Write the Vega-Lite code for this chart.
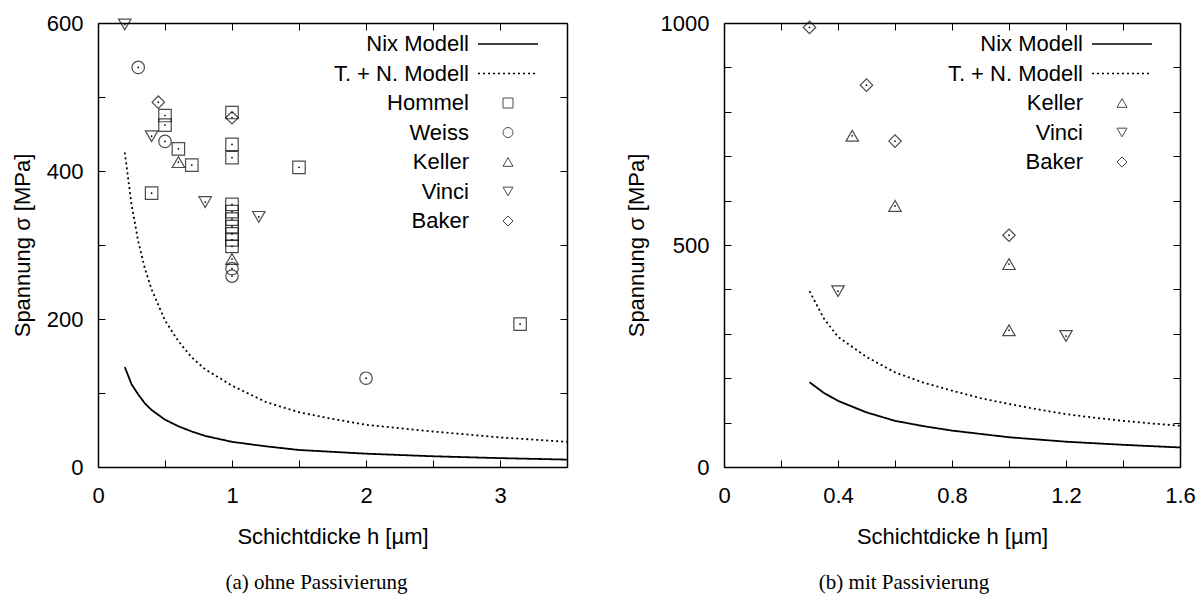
{
  "$schema": "https://vega.github.io/schema/vega-lite/v6.json",
  "padding": {"left": 11, "top": 12, "right": 5, "bottom": 5},
  "spacing": 57,
  "resolve": {"scale": {"shape": "independent", "stroke": "independent", "strokeDash": "independent"}, "legend": {"shape": "independent", "stroke": "independent", "strokeDash": "independent"}},
  "datasets": {
    "modelsA": [
      {"h": 0.2, "sigma": 135, "model": "Nix Modell"},
      {"h": 0.25, "sigma": 112, "model": "Nix Modell"},
      {"h": 0.3, "sigma": 98, "model": "Nix Modell"},
      {"h": 0.35, "sigma": 86, "model": "Nix Modell"},
      {"h": 0.4, "sigma": 77, "model": "Nix Modell"},
      {"h": 0.5, "sigma": 64, "model": "Nix Modell"},
      {"h": 0.6, "sigma": 55, "model": "Nix Modell"},
      {"h": 0.7, "sigma": 48, "model": "Nix Modell"},
      {"h": 0.8, "sigma": 42, "model": "Nix Modell"},
      {"h": 1.0, "sigma": 34, "model": "Nix Modell"},
      {"h": 1.25, "sigma": 28, "model": "Nix Modell"},
      {"h": 1.5, "sigma": 23, "model": "Nix Modell"},
      {"h": 2.0, "sigma": 18, "model": "Nix Modell"},
      {"h": 2.5, "sigma": 14.5, "model": "Nix Modell"},
      {"h": 3.0, "sigma": 12, "model": "Nix Modell"},
      {"h": 3.5, "sigma": 10, "model": "Nix Modell"},
      {"h": 0.2, "sigma": 425, "model": "T. + N. Modell"},
      {"h": 0.25, "sigma": 355, "model": "T. + N. Modell"},
      {"h": 0.3, "sigma": 305, "model": "T. + N. Modell"},
      {"h": 0.35, "sigma": 268, "model": "T. + N. Modell"},
      {"h": 0.4, "sigma": 240, "model": "T. + N. Modell"},
      {"h": 0.5, "sigma": 198, "model": "T. + N. Modell"},
      {"h": 0.6, "sigma": 170, "model": "T. + N. Modell"},
      {"h": 0.7, "sigma": 148, "model": "T. + N. Modell"},
      {"h": 0.8, "sigma": 132, "model": "T. + N. Modell"},
      {"h": 1.0, "sigma": 110, "model": "T. + N. Modell"},
      {"h": 1.25, "sigma": 88, "model": "T. + N. Modell"},
      {"h": 1.5, "sigma": 74, "model": "T. + N. Modell"},
      {"h": 1.75, "sigma": 65, "model": "T. + N. Modell"},
      {"h": 2.0, "sigma": 57, "model": "T. + N. Modell"},
      {"h": 2.5, "sigma": 48, "model": "T. + N. Modell"},
      {"h": 3.0, "sigma": 40, "model": "T. + N. Modell"},
      {"h": 3.5, "sigma": 34, "model": "T. + N. Modell"}
    ],
    "pointsA": [
      {"h": 0.4, "sigma": 370, "study": "Hommel"},
      {"h": 0.5, "sigma": 475, "study": "Hommel"},
      {"h": 0.5, "sigma": 462, "study": "Hommel"},
      {"h": 0.6, "sigma": 430, "study": "Hommel"},
      {"h": 0.7, "sigma": 408, "study": "Hommel"},
      {"h": 1.0, "sigma": 479, "study": "Hommel"},
      {"h": 1.0, "sigma": 436, "study": "Hommel"},
      {"h": 1.0, "sigma": 418, "study": "Hommel"},
      {"h": 1.0, "sigma": 355, "study": "Hommel"},
      {"h": 1.0, "sigma": 345, "study": "Hommel"},
      {"h": 1.0, "sigma": 335, "study": "Hommel"},
      {"h": 1.0, "sigma": 325, "study": "Hommel"},
      {"h": 1.0, "sigma": 315, "study": "Hommel"},
      {"h": 1.0, "sigma": 307, "study": "Hommel"},
      {"h": 1.0, "sigma": 298, "study": "Hommel"},
      {"h": 1.5, "sigma": 405, "study": "Hommel"},
      {"h": 3.15, "sigma": 193, "study": "Hommel"},
      {"h": 0.3, "sigma": 540, "study": "Weiss"},
      {"h": 0.5, "sigma": 440, "study": "Weiss"},
      {"h": 1.0, "sigma": 268, "study": "Weiss"},
      {"h": 1.0, "sigma": 258, "study": "Weiss"},
      {"h": 2.0, "sigma": 120, "study": "Weiss"},
      {"h": 0.6, "sigma": 412, "study": "Keller"},
      {"h": 1.0, "sigma": 281, "study": "Keller"},
      {"h": 0.2, "sigma": 598, "study": "Vinci"},
      {"h": 0.4, "sigma": 447, "study": "Vinci"},
      {"h": 0.8, "sigma": 358, "study": "Vinci"},
      {"h": 1.2, "sigma": 338, "study": "Vinci"},
      {"h": 0.45, "sigma": 493, "study": "Baker"},
      {"h": 1.0, "sigma": 472, "study": "Baker"}
    ],
    "modelsB": [
      {"h": 0.3, "sigma": 191, "model": "Nix Modell"},
      {"h": 0.35, "sigma": 167, "model": "Nix Modell"},
      {"h": 0.4, "sigma": 149, "model": "Nix Modell"},
      {"h": 0.5, "sigma": 123, "model": "Nix Modell"},
      {"h": 0.6, "sigma": 104, "model": "Nix Modell"},
      {"h": 0.7, "sigma": 92, "model": "Nix Modell"},
      {"h": 0.8, "sigma": 82, "model": "Nix Modell"},
      {"h": 1.0, "sigma": 67, "model": "Nix Modell"},
      {"h": 1.2, "sigma": 57, "model": "Nix Modell"},
      {"h": 1.4, "sigma": 50, "model": "Nix Modell"},
      {"h": 1.6, "sigma": 44, "model": "Nix Modell"},
      {"h": 0.3, "sigma": 396, "model": "T. + N. Modell"},
      {"h": 0.35, "sigma": 335, "model": "T. + N. Modell"},
      {"h": 0.4, "sigma": 293, "model": "T. + N. Modell"},
      {"h": 0.5, "sigma": 248, "model": "T. + N. Modell"},
      {"h": 0.6, "sigma": 213, "model": "T. + N. Modell"},
      {"h": 0.7, "sigma": 190, "model": "T. + N. Modell"},
      {"h": 0.8, "sigma": 172, "model": "T. + N. Modell"},
      {"h": 0.9, "sigma": 155, "model": "T. + N. Modell"},
      {"h": 1.0, "sigma": 142, "model": "T. + N. Modell"},
      {"h": 1.1, "sigma": 130, "model": "T. + N. Modell"},
      {"h": 1.2, "sigma": 119, "model": "T. + N. Modell"},
      {"h": 1.3, "sigma": 111, "model": "T. + N. Modell"},
      {"h": 1.4, "sigma": 104, "model": "T. + N. Modell"},
      {"h": 1.5, "sigma": 98, "model": "T. + N. Modell"},
      {"h": 1.6, "sigma": 93, "model": "T. + N. Modell"}
    ],
    "pointsB": [
      {"h": 0.45, "sigma": 746, "study": "Keller"},
      {"h": 0.6, "sigma": 588, "study": "Keller"},
      {"h": 1.0, "sigma": 457, "study": "Keller"},
      {"h": 1.0, "sigma": 308, "study": "Keller"},
      {"h": 0.4, "sigma": 396, "study": "Vinci"},
      {"h": 1.2, "sigma": 295, "study": "Vinci"},
      {"h": 0.3, "sigma": 990, "study": "Baker"},
      {"h": 0.5, "sigma": 860, "study": "Baker"},
      {"h": 0.6, "sigma": 734, "study": "Baker"},
      {"h": 1.0, "sigma": 522, "study": "Baker"}
    ]
  },
  "hconcat": [
    {
      "width": 469,
      "height": 444,
      "title": {"text": "(a) ohne Passivierung", "orient": "bottom", "frame": "group", "font": "Liberation Serif", "fontSize": 21, "fontWeight": "normal", "color": "black", "offset": 25, "dx": -16},
      "layer": [
        {
          "data": {"name": "modelsA"},
          "mark": {"type": "line", "strokeWidth": 1.8, "clip": true},
          "encoding": {
            "x": {"field": "h", "type": "quantitative", "scale": {"domain": [0, 3.5], "nice": false, "zero": false},
              "axis": {"orient": "bottom", "title": "Schichtdicke h [µm]", "values": [0, 0.5, 1, 1.5, 2, 2.5, 3, 3.5], "labelExpr": "datum.value % 1 === 0 ? datum.label : ''", "format": "~g"}},
            "y": {"field": "sigma", "type": "quantitative", "scale": {"domain": [0, 600], "nice": false},
              "axis": {"orient": "left", "title": "Spannung σ [MPa]", "values": [0, 100, 200, 300, 400, 500, 600], "labelExpr": "datum.value % 200 === 0 ? datum.label : ''", "format": "d"}},
            "stroke": {"field": "model", "type": "nominal", "scale": {"domain": ["Nix Modell", "T. + N. Modell"], "range": ["black", "black"]},
              "legend": {"orient": "none", "legendX": 399, "legendY": 10, "symbolType": "M-6,0H6", "symbolSize": 100, "labelOffset": -50}},
            "strokeDash": {"field": "model", "type": "nominal", "scale": {"domain": ["Nix Modell", "T. + N. Modell"], "range": [[1, 0], [2, 3]]},
              "legend": {"orient": "none", "legendX": 399, "legendY": 10, "symbolType": "M-6,0H6", "symbolSize": 100, "labelOffset": -50}}
          }
        },
        {
          "data": {"name": "pointsA"},
          "mark": {"type": "point", "filled": false, "stroke": "black", "strokeWidth": 1.2, "size": 155},
          "encoding": {
            "x": {"field": "h", "type": "quantitative",
              "axis": {"orient": "top", "labels": false, "title": null, "values": [0, 0.5, 1, 1.5, 2, 2.5, 3, 3.5]}},
            "y": {"field": "sigma", "type": "quantitative",
              "axis": {"orient": "right", "labels": false, "title": null, "values": [0, 100, 200, 300, 400, 500, 600]}},
            "shape": {"field": "study", "type": "nominal", "scale": {"domain": ["Hommel", "Weiss", "Keller", "Vinci", "Baker"], "range": ["square", "circle", "triangle-up", "triangle-down", "diamond"]},
              "legend": {"orient": "none", "legendX": 399, "legendY": 69, "symbolSize": 100, "symbolStrokeWidth": 1, "labelOffset": -50}}
          }
        },
        {
          "data": {"name": "pointsA"},
          "mark": {"type": "circle", "size": 3, "color": "black", "opacity": 1},
          "encoding": {
            "x": {"field": "h", "type": "quantitative", "axis": null},
            "y": {"field": "sigma", "type": "quantitative", "axis": null}
          }
        }
      ]
    },
    {
      "width": 456,
      "height": 444,
      "title": {"text": "(b) mit Passivierung", "orient": "bottom", "frame": "group", "font": "Liberation Serif", "fontSize": 21, "fontWeight": "normal", "color": "black", "offset": 25, "dx": -48},
      "layer": [
        {
          "data": {"name": "modelsB"},
          "mark": {"type": "line", "strokeWidth": 1.8, "clip": true},
          "encoding": {
            "x": {"field": "h", "type": "quantitative", "scale": {"domain": [0, 1.6], "nice": false, "zero": false},
              "axis": {"orient": "bottom", "title": "Schichtdicke h [µm]", "values": [0, 0.2, 0.4, 0.6, 0.8, 1.0, 1.2, 1.4, 1.6], "labelExpr": "round(datum.value * 10) % 4 === 0 ? datum.label : ''", "format": "~g"}},
            "y": {"field": "sigma", "type": "quantitative", "scale": {"domain": [0, 1000], "nice": false},
              "axis": {"orient": "left", "title": "Spannung σ [MPa]", "values": [0, 100, 200, 300, 400, 500, 600, 700, 800, 900, 1000], "labelExpr": "datum.value % 500 === 0 ? datum.label : ''", "format": "d"}},
            "stroke": {"field": "model", "type": "nominal", "scale": {"domain": ["Nix Modell", "T. + N. Modell"], "range": ["black", "black"]},
              "legend": {"orient": "none", "legendX": 387, "legendY": 10, "symbolType": "M-6,0H6", "symbolSize": 100, "labelOffset": -50}},
            "strokeDash": {"field": "model", "type": "nominal", "scale": {"domain": ["Nix Modell", "T. + N. Modell"], "range": [[1, 0], [2, 3]]},
              "legend": {"orient": "none", "legendX": 387, "legendY": 10, "symbolType": "M-6,0H6", "symbolSize": 100, "labelOffset": -50}}
          }
        },
        {
          "data": {"name": "pointsB"},
          "mark": {"type": "point", "filled": false, "stroke": "black", "strokeWidth": 1.2, "size": 155},
          "encoding": {
            "x": {"field": "h", "type": "quantitative",
              "axis": {"orient": "top", "labels": false, "title": null, "values": [0, 0.2, 0.4, 0.6, 0.8, 1.0, 1.2, 1.4, 1.6]}},
            "y": {"field": "sigma", "type": "quantitative",
              "axis": {"orient": "right", "labels": false, "title": null, "values": [0, 100, 200, 300, 400, 500, 600, 700, 800, 900, 1000]}},
            "shape": {"field": "study", "type": "nominal", "scale": {"domain": ["Keller", "Vinci", "Baker"], "range": ["triangle-up", "triangle-down", "diamond"]},
              "legend": {"orient": "none", "legendX": 387, "legendY": 69, "symbolSize": 100, "symbolStrokeWidth": 1, "labelOffset": -50}}
          }
        },
        {
          "data": {"name": "pointsB"},
          "mark": {"type": "circle", "size": 3, "color": "black", "opacity": 1},
          "encoding": {
            "x": {"field": "h", "type": "quantitative", "axis": null},
            "y": {"field": "sigma", "type": "quantitative", "axis": null}
          }
        }
      ]
    }
  ],
  "config": {
    "font": "Liberation Sans",
    "view": {"stroke": null},
    "axis": {
      "grid": false, "domainColor": "black", "domainWidth": 1.5, "tickColor": "black", "tickWidth": 1,
      "tickSize": -7, "labelColor": "black", "labelFontSize": 22, "labelFont": "Liberation Sans",
      "titleColor": "black", "titleFontSize": 22, "titleFont": "Liberation Sans", "titleFontWeight": "normal",
      "labelFlush": false, "labelOverlap": false, "labelBound": false
    },
    "axisX": {"labelPadding": 25, "titlePadding": 20},
    "axisY": {"labelPadding": 22, "titlePadding": 12},
    "legend": {
      "title": null, "labelFontSize": 22, "labelFont": "Liberation Sans", "labelColor": "black",
      "labelAlign": "right", "labelLimit": 0, "rowPadding": 7.5, "padding": 0,
      "symbolStrokeColor": "black", "symbolStrokeWidth": 1.6
    }
  }
}
